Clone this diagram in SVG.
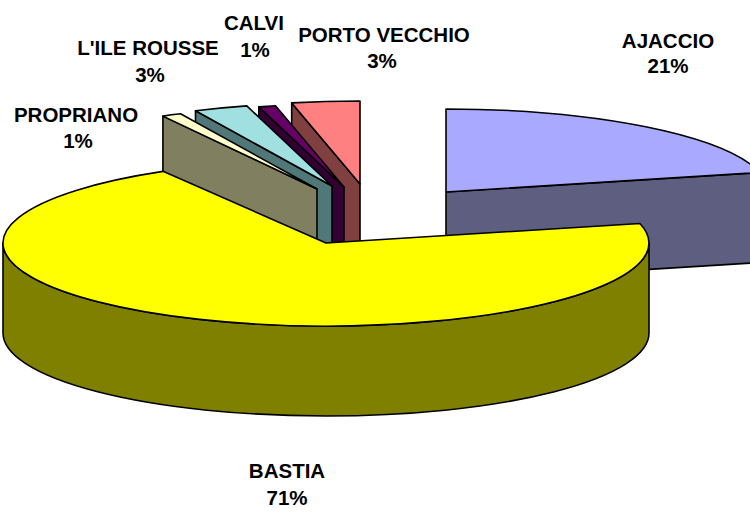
<svg xmlns="http://www.w3.org/2000/svg" width="750" height="512" viewBox="0 0 750 512">
<style>
.s{stroke:#000;stroke-width:1.6;stroke-linejoin:round}
.t{font-family:"Liberation Sans",Arial,sans-serif;font-weight:bold;font-size:20.5px;fill:#000;text-anchor:middle}
</style>
<rect width="750" height="512" fill="#fff"/>
<g id="ajaccio">
<path class="s" fill="#5E5E80" d="M446,192 L759.9,172.5 L759.9,262.5 L446,282 Z"/>
<path class="s" fill="#A9A9FF" d="M446,192 L759.9,172.5 A323,83 0 0 0 446,109 Z"/>
</g>
<g id="porto-vecchio">
<path class="s" fill="#804040" d="M360,184 L291.7,102.9 L291.7,192.9 L360,274 Z"/>
<path class="s" fill="#FF8080" d="M360,184 L360,101 A323,83 0 0 0 291.7,102.9 Z"/>
</g>
<g id="calvi">
<path class="s" fill="#330033" d="M344,187 L258.8,106.9 L258.8,196.9 L344,277 Z"/>
<path class="s" fill="#660066" d="M344,187 L275.7,105.9 A323,83 0 0 0 258.8,106.9 Z"/>
</g>
<g id="ile-rousse">
<path class="s" fill="#507878" d="M332,186 L195.5,110.8 L195.5,200.8 L332,276 Z"/>
<path class="s" fill="#A0E0E0" d="M332,186 L246.8,105.9 A323,83 0 0 0 195.5,110.8 Z"/>
</g>
<g id="propriano">
<path class="s" fill="#808060" d="M317,189 L162.9,116.1 L162.9,206.1 L317,279 Z"/>
<path class="s" fill="#FFFFCC" d="M317,189 L180.5,113.8 A323,83 0 0 0 162.9,116.1 Z"/>
</g>
<g id="bastia">
<path class="s" fill="#808000" d="M649,243 A323,83 0 0 1 326,326 A323,83 0 0 1 3,243 L3,333 A323,83 0 0 0 326,416 A323,83 0 0 0 649,333 Z"/>
<path class="s" fill="#FFFF00" d="M326,243 L639.9,223.5 A323,83 0 1 1 163,171.35 Z"/>
</g>
<g id="labels">
<text class="t" x="668" y="48">AJACCIO</text>
<text class="t" x="668" y="73">21%</text>
<text class="t" x="384" y="42">PORTO VECCHIO</text>
<text class="t" x="382" y="68">3%</text>
<text class="t" x="254" y="30">CALVI</text>
<text class="t" x="255" y="57">1%</text>
<text class="t" x="148" y="55">L'ILE ROUSSE</text>
<text class="t" x="150" y="82">3%</text>
<text class="t" x="76" y="122">PROPRIANO</text>
<text class="t" x="78" y="148">1%</text>
<text class="t" x="287" y="478">BASTIA</text>
<text class="t" x="287" y="505">71%</text>
</g>
</svg>
